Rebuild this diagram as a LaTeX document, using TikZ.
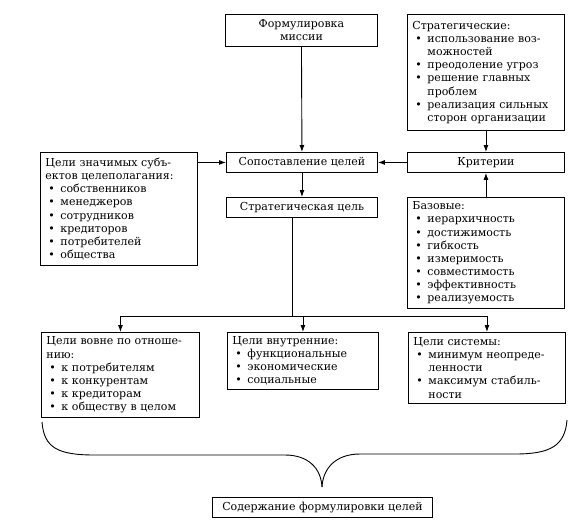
\documentclass[tikz,border=0pt]{standalone}
\usepackage{fontspec}
\setmainfont{DejaVu Serif}
\usetikzlibrary{arrows.meta}
\newcommand{\bul}{\hspace*{3pt}\makebox[12pt][l]{\textbullet}}
\newcommand{\cont}{\hspace*{15pt}}
\begin{document}
\begin{tikzpicture}[x=1pt,y=-1pt,
  box/.style={draw, line width=0.9pt, anchor=north west, inner xsep=5pt, inner ysep=0pt, font=\fontsize{11}{13.1}\selectfont},
  lbox/.style={box, align=left},
  cbox/.style={box, align=center},
  arr/.style={line width=0.9pt, -{Latex[length=7pt,width=5pt]}},
  ln/.style={line width=0.9pt}]
\useasboundingbox (0,0) rectangle (577,523);

\node[cbox, minimum width=152pt, minimum height=32pt] (mission) at (225,14) {Формулировка\\миссии};
\node[lbox, text width=147pt, minimum height=116pt] (strat) at (407,14) {Стратегические:\\
\bul использование воз-\\
\cont можностей\\
\bul преодоление угроз\\
\bul решение главных\\
\cont проблем\\
\bul реализация сильных\\
\cont сторон организации};
\node[cbox, minimum width=151pt, minimum height=20pt] (compare) at (226,152) {Сопоставление целей};
\node[cbox, minimum width=157pt, minimum height=20pt] (krit) at (407,152) {Критерии};
\node[cbox, minimum width=151pt, minimum height=20pt] (sgoal) at (226,197) {Стратегическая цель};
\node[lbox, text width=147pt, minimum height=113pt] (subj) at (40,152) {Цели значимых субъ-\\
ектов целеполагания:\\
\bul собственников\\
\bul менеджеров\\
\bul сотрудников\\
\bul кредиторов\\
\bul потребителей\\
\bul общества};
\node[lbox, text width=147pt, minimum height=111pt] (base) at (407,197) {Базовые:\\
\bul иерархичность\\
\bul достижимость\\
\bul гибкость\\
\bul измеримость\\
\bul совместимость\\
\bul эффективность\\
\bul реализуемость};
\node[lbox, text width=148pt, minimum height=85pt] (outer) at (41,332) {Цели вовне по отноше-\\
нию:\\
\bul к потребителям\\
\bul к конкурентам\\
\bul к кредиторам\\
\bul к обществу в целом};
\node[lbox, text width=141pt, minimum height=57pt] (inner) at (227,332) {Цели внутренние:\\
\bul функциональные\\
\bul экономические\\
\bul социальные};
\node[lbox, text width=147pt, minimum height=71pt] (system) at (408,332) {Цели системы:\\
\bul минимум неопреде-\\
\cont ленности\\
\bul максимум стабиль-\\
\cont ности};
\node[cbox, minimum width=220pt, minimum height=20pt] (result) at (212,497) {Содержание формулировки целей};

\draw[arr] (mission.south) -- (compare.north);
\draw[arr] (strat.south) -- (krit.north);
\draw[arr] (krit.west) -- (compare.east);
\draw[arr] (subj.east |- compare.west) -- (compare.west);
\draw[arr] (compare.south) -- (sgoal.north);
\draw[arr] (base.north) -- (krit.south);

\coordinate (split) at (292,316);
\draw[ln] (sgoal.south -| split) -- (split);
\draw[ln] (outer.north |- split) -- (system.north |- split);
\draw[arr] (outer.north |- split) -- (outer.north);
\draw[arr] (inner.north |- split) -- (inner.north);
\draw[arr] (system.north |- split) -- (system.north);

\coordinate (bl) at (42,422);
\coordinate (br) at (567,420);
\coordinate (tip) at (322,487);
\draw[ln] (bl) .. controls (44,448) and (58,455) .. (95,455) -- (285,455)
  .. controls (308,455) and (321,468) .. (tip);
\draw[ln] (br) .. controls (565,446) and (550,454) .. (515,454) -- (360,454)
  .. controls (336,454) and (323,468) .. (tip);
\end{tikzpicture}
\end{document}
